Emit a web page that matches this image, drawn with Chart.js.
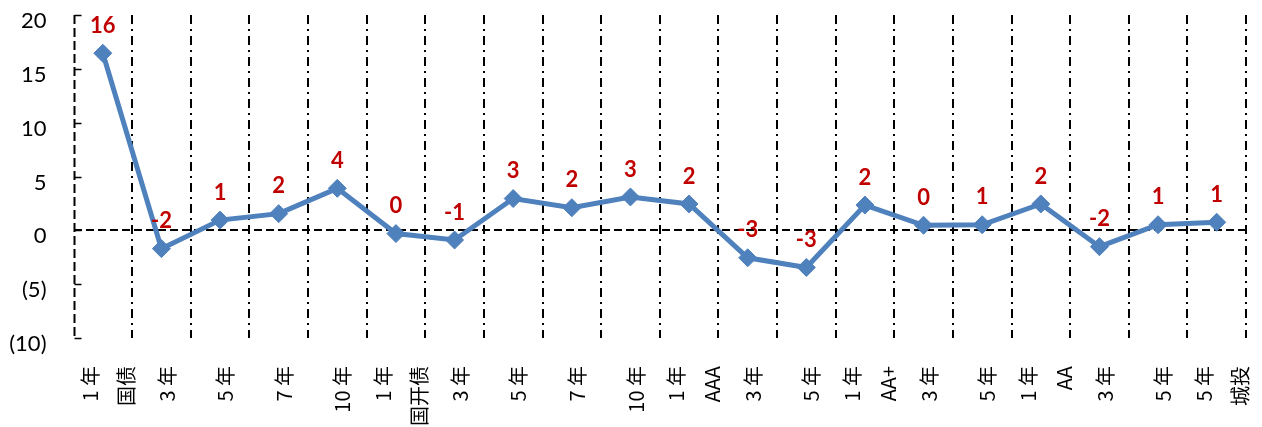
<!DOCTYPE html>
<html>
<head>
<meta charset="utf-8">
<script src="https://cdn.jsdelivr.net/npm/chart.js@4.4.1/dist/chart.umd.min.js"></script>
<style>
  html, body { margin: 0; padding: 0; background: #ffffff; }
  #wrap { width: 1262px; height: 427px; position: relative; }
</style>
</head>
<body>
<div id="wrap"><canvas id="chart" width="1262" height="427"></canvas></div>
<script>
// Categories: tenor, with the bond type as a second line on the first tenor of each group
const categories = [
  ["1 年", "国债"], "3 年", "5 年", "7 年", "10 年",
  ["1 年", "国开债"], "3 年", "5 年", "7 年", "10 年",
  ["1 年", "AAA"], "3 年", "5 年",
  ["1 年", "AA+"], "3 年", "5 年",
  ["1 年", "AA"], "3 年", "5 年",
  ["5 年", "城投"]
];

// Change per category (bp)
const spreadChange = [
  16.45, -1.7, 0.95, 1.55, 3.9,
  -0.3, -0.9, 2.95, 2.1, 3.1,
  2.45, -2.55, -3.45,
  2.35, 0.47, 0.52,
  2.45, -1.52, 0.52,
  0.75
];

// Value axis ticks and their printed labels
const yTickValues = [20, 15, 10, 5, 0, -5, -10];
const yTickLabels = ["20", "15", "10", "5", "0", "(5)", "(10)"];

const LINE_BLUE = "#4F81BD";
const LABEL_RED = "#C00000";
const LATIN_FONT = "Lato, 'Open Sans', 'DejaVu Sans', sans-serif";
const CJK_FONT = "'Noto Sans CJK SC', 'Noto Sans', sans-serif";

// Excel-style rounding (half away from zero), never printing "-0"
function roundLabel(v) {
  const r = Math.sign(v) * Math.round(Math.abs(v));
  return r === 0 ? "0" : String(r);
}

// Dashed value axis with inward tick marks
const valueAxisLine = {
  id: "valueAxisLine",
  beforeDatasetsDraw(chart) {
    const { ctx, chartArea } = chart;
    const y = chart.scales.y;
    const x0 = Math.round(chartArea.left) + 0.5;
    ctx.save();
    ctx.strokeStyle = "#000";
    ctx.lineWidth = 2;
    ctx.setLineDash([9, 4]);
    ctx.beginPath();
    ctx.moveTo(x0, chartArea.top);
    ctx.lineTo(x0, chartArea.bottom);
    ctx.stroke();
    ctx.setLineDash([]);
    ctx.lineWidth = 1.5;
    yTickValues.forEach(v => {
      const py = Math.round(y.getPixelForValue(v)) + 0.5;
      ctx.beginPath();
      ctx.moveTo(x0, py);
      ctx.lineTo(x0 + 7, py);
      ctx.stroke();
    });
    ctx.restore();
  }
};

// Value labels above each marker
const valueLabels = {
  id: "valueLabels",
  afterDatasetsDraw(chart) {
    const { ctx } = chart;
    const meta = chart.getDatasetMeta(0);
    ctx.save();
    ctx.font = "bold 22px " + LATIN_FONT;
    ctx.fillStyle = LABEL_RED;
    ctx.textAlign = "center";
    ctx.textBaseline = "middle";
    meta.data.forEach((pt, i) => {
      ctx.fillText(roundLabel(spreadChange[i]), pt.x, pt.y - 27.5);
    });
    ctx.restore();
  }
};

// Vertical category labels; multi-line labels spread side by side
const categoryLabels = {
  id: "categoryLabels",
  afterDraw(chart) {
    const { ctx } = chart;
    const xs = chart.scales.x;
    const top = xs.top + 28;
    const spacing = 36;
    ctx.save();
    ctx.font = "20px " + CJK_FONT;
    ctx.fillStyle = "#000";
    ctx.textAlign = "right";
    ctx.textBaseline = "middle";
    categories.forEach((cat, i) => {
      const lines = Array.isArray(cat) ? cat : [cat];
      const px = xs.getPixelForValue(i) + 5.5;
      lines.forEach((line, j) => {
        const cx = px + (j - (lines.length - 1) / 2) * spacing;
        ctx.save();
        ctx.translate(cx, top);
        ctx.rotate(-Math.PI / 2);
        ctx.fillText(line, 0, 0);
        ctx.restore();
      });
    });
    ctx.restore();
  }
};

new Chart(document.getElementById("chart"), {
  type: "line",
  data: {
    labels: categories,
    datasets: [{
      data: spreadChange,
      borderColor: LINE_BLUE,
      backgroundColor: LINE_BLUE,
      borderWidth: 5,
      tension: 0,
      pointStyle: "rectRot",
      pointRadius: 9,
      pointBorderWidth: 1,
      pointBorderColor: LINE_BLUE,
      pointBackgroundColor: LINE_BLUE,
      clip: false
    }]
  },
  options: {
    responsive: false,
    animation: false,
    events: [],
    layout: { padding: { top: 15, right: 16, left: 0, bottom: 0 } },
    plugins: {
      legend: { display: false },
      tooltip: { enabled: false },
      title: { display: false }
    },
    scales: {
      x: {
        type: "category",
        offset: true,
        afterFit(scale) {
          scale.height = 89;
          scale.paddingLeft = 0;
          scale.paddingRight = 0;
        },
        grid: {
          offset: true,
          drawTicks: false,
          lineWidth: 2,
          color: ctx => (ctx.index === 0 ? "rgba(0,0,0,0)" : "#000")
        },
        border: { display: false, dash: [9, 5, 2, 5] },
        ticks: { display: false }
      },
      y: {
        min: -10,
        max: 20,
        afterFit(scale) {
          scale.width = 73.5;
          scale.paddingTop = 0;
          scale.paddingBottom = 0;
        },
        afterBuildTicks(scale) { scale.ticks = yTickValues.map(v => ({ value: v })); },
        grid: {
          drawTicks: false,
          lineWidth: 2,
          color: ctx => (ctx.tick && ctx.tick.value === 0 ? "#000" : "rgba(0,0,0,0)")
        },
        border: { display: false, dash: [8, 4] },
        ticks: {
          padding: 27,
          labelOffset: 6,
          color: "#000",
          font: { family: LATIN_FONT, size: 22 },
          callback: v => {
            const i = yTickValues.indexOf(v);
            return i >= 0 ? yTickLabels[i] : "";
          }
        }
      }
    }
  },
  plugins: [valueAxisLine, valueLabels, categoryLabels]
});
</script>
</body>
</html>
